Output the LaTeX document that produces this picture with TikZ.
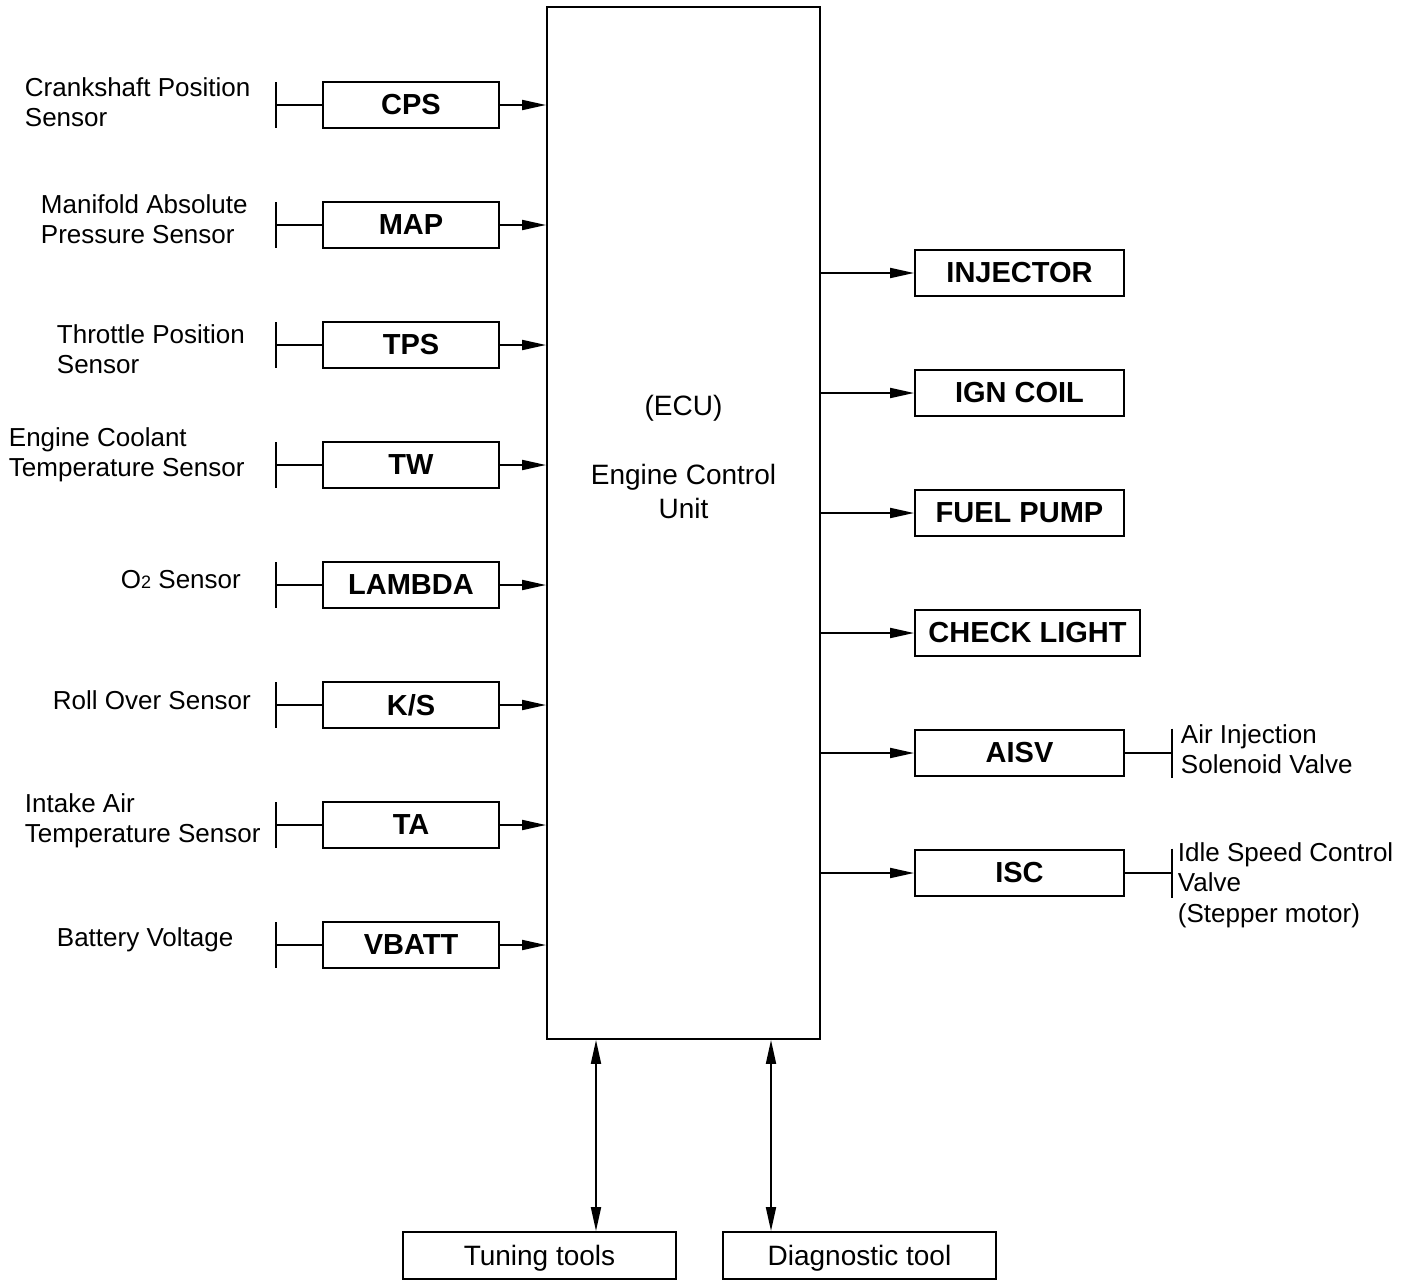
\documentclass[tikz,border=0pt]{standalone}
\usepackage{fontspec}
\setmainfont{Liberation Sans}
\usetikzlibrary{arrows.meta}
\begin{document}
\begin{tikzpicture}[x=1pt,y=-1pt,
  line width=1.9pt,
  tip/.style={-{Triangle[length=24pt,width=10pt]}},
  sbox/.style={draw,inner sep=0pt,minimum width=176pt,minimum height=46pt,font=\fontsize{29}{30}\selectfont\bfseries},
  obox/.style={draw,inner sep=0pt,minimum width=209pt,minimum height=46pt,font=\fontsize{29}{30}\selectfont\bfseries},
  tbox/.style={draw,inner sep=0pt,minimum width=273pt,minimum height=47pt,text depth=0pt,font=\fontsize{28}{30}\selectfont},
  lbl/.style={inner sep=0pt,anchor=west,align=left,font=\fontsize{26}{30.5}\selectfont},
  ecutxt/.style={inner sep=0pt,align=center,font=\fontsize{28}{34}\selectfont}
]
\useasboundingbox (0,0) rectangle (1414,1280);

% ECU
\node[draw,inner sep=0pt,minimum width=273pt,minimum height=1032pt] (ECU) at (683.5,523) {};
\node[ecutxt] (ecuabbr) at (683.5,408) {(ECU)};
\node[ecutxt] (ecuname) at (683.5,491) {Engine Control\\Unit};

% Left inputs
\foreach \n/\t/\y in {CPS/CPS/105, MAP/MAP/225, TPS/TPS/345, TW/TW/465, LAMBDA/LAMBDA/585, KS/K\slash S/705, TA/TA/825, VBATT/VBATT/945}{
  \node[sbox] (\n) at (411,\y) {\t};
  \coordinate (bar\n) at (276,\y);
  \draw ([yshift=23pt]bar\n) -- ([yshift=-23pt]bar\n);
  \draw (bar\n) -- (\n.west);
  \draw[tip] (\n.east) -- (ECU.west |- \n.east);
}

\node[lbl] (lCPS) at (24,102) {Crankshaft Position\\Sensor};
\node[lbl] (lMAP) at (40,219) {Manifold Absolute\\Pressure Sensor};
\node[lbl] (lTPS) at (56,349) {Throttle Position\\Sensor};
\node[lbl] (lTW) at (8,455) {Engine Coolant\\Temperature Sensor};
\node[lbl] (lLAMBDA) at (120,580) {O{\fontsize{18}{20}\selectfont 2} Sensor};
\node[lbl] (lKS) at (52,700) {Roll Over Sensor};
\node[lbl] (lTA) at (24,821) {Intake Air\\Temperature Sensor};
\node[lbl] (lVBATT) at (56,940) {Battery Voltage};

% Right outputs
\node[obox] (INJ) at (1019.5,273) {INJECTOR};
\node[obox] (IGN) at (1019.5,393) {IGN COIL};
\node[obox] (FP) at (1019.5,513) {FUEL PUMP};
\node[obox,minimum width=225pt] (CL) at (1027.5,633) {CHECK LIGHT};
\node[obox] (AISV) at (1019.5,753) {AISV};
\node[obox] (ISC) at (1019.5,873) {ISC};
\foreach \n in {INJ,IGN,FP,CL,AISV,ISC}{
  \draw[tip] (ECU.east |- \n.west) -- (\n.west);
}
\coordinate (barAISV) at (1172,753);
\draw ([yshift=24.5pt]barAISV) -- ([yshift=-24.5pt]barAISV);
\draw (AISV.east) -- (barAISV);
\coordinate (barISC) at (1172,873);
\draw ([yshift=24.5pt]barISC) -- ([yshift=-24.5pt]barISC);
\draw (ISC.east) -- (barISC);
\node[lbl] (lAISV) at (1180,749) {Air Injection\\Solenoid Valve};
\node[lbl] (lISC) at (1177,885) {Idle Speed Control\\Valve\\(Stepper motor)};

% Bottom tools
\node[tbox] (TT) at (539.5,1255.5) {Tuning tools};
\node[tbox] (DT) at (859.5,1255.5) {Diagnostic tool};
\coordinate (xTT) at (596,0);
\coordinate (xDT) at (771,0);
\draw[{Triangle[length=24pt,width=10pt]}-{Triangle[length=24pt,width=10pt]}] (ECU.south -| xTT) -- (TT.north -| xTT);
\draw[{Triangle[length=24pt,width=10pt]}-{Triangle[length=24pt,width=10pt]}] (ECU.south -| xDT) -- (DT.north -| xDT);
\end{tikzpicture}
\end{document}
